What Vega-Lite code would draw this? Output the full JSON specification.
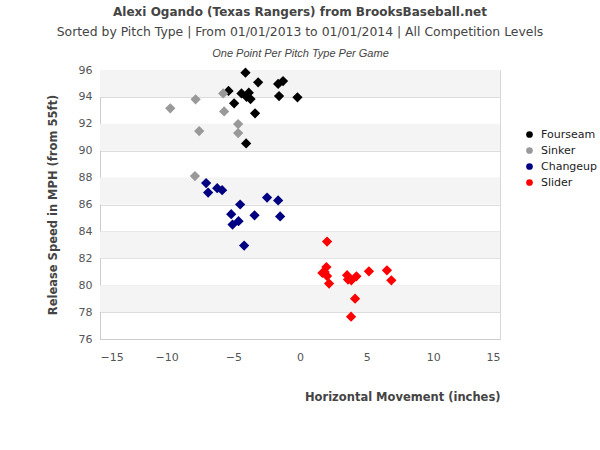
{
  "$schema": "https://vega.github.io/schema/vega-lite/v6.json",
  "autosize": "none",
  "width": 400,
  "height": 269,
  "padding": {"left": 100, "top": 70, "right": 100, "bottom": 111},
  "background": "#ffffff",
  "title": {
    "text": "Alexi Ogando (Texas Rangers) from BrooksBaseball.net",
    "subtitle": "Sorted by Pitch Type | From 01/01/2013 to 01/01/2014 | All Competition Levels",
    "anchor": "middle",
    "font": "DejaVu Sans",
    "fontSize": 12,
    "fontWeight": "bold",
    "color": "#444444",
    "subtitleFont": "DejaVu Sans",
    "subtitleFontSize": 12.4,
    "subtitleColor": "#444444",
    "subtitlePadding": 7,
    "offset": 8
  },
  "config": {
    "view": {"stroke": "#d8d8d8"},
    "axis": {
      "labelFont": "DejaVu Sans",
      "labelFontSize": 11,
      "labelColor": "#555555",
      "titleFont": "DejaVu Sans",
      "titleFontSize": 11.5,
      "titleFontWeight": "bold",
      "titleColor": "#444444",
      "domainColor": "#cccccc",
      "gridColor": "#dddddd"
    }
  },
  "datasets": {
    "bands": [
      {"lo": 94, "hi": 96},
      {"lo": 90, "hi": 92},
      {"lo": 86, "hi": 88},
      {"lo": 82, "hi": 84},
      {"lo": 78, "hi": 80}
    ],
    "pitches": [
      {"type": "Fourseam", "h": -4.09, "v": 95.8},
      {"type": "Fourseam", "h": -3.14, "v": 95.08},
      {"type": "Fourseam", "h": -1.64, "v": 94.96},
      {"type": "Fourseam", "h": -1.27, "v": 95.18},
      {"type": "Fourseam", "h": -5.36, "v": 94.44},
      {"type": "Fourseam", "h": -4.39, "v": 94.26},
      {"type": "Fourseam", "h": -3.84, "v": 94.31},
      {"type": "Fourseam", "h": -4.01, "v": 94.01},
      {"type": "Fourseam", "h": -3.71, "v": 93.84},
      {"type": "Fourseam", "h": -1.57, "v": 94.06},
      {"type": "Fourseam", "h": -0.19, "v": 93.97},
      {"type": "Fourseam", "h": -4.94, "v": 93.52},
      {"type": "Fourseam", "h": -3.37, "v": 92.78},
      {"type": "Fourseam", "h": -4.04, "v": 90.54},
      {"type": "Sinker", "h": -5.76, "v": 94.26},
      {"type": "Sinker", "h": -7.83, "v": 93.82},
      {"type": "Sinker", "h": -9.73, "v": 93.15},
      {"type": "Sinker", "h": -5.69, "v": 92.92},
      {"type": "Sinker", "h": -4.64, "v": 91.98},
      {"type": "Sinker", "h": -7.56, "v": 91.46},
      {"type": "Sinker", "h": -4.64, "v": 91.31},
      {"type": "Sinker", "h": -7.88, "v": 88.11},
      {"type": "Changeup", "h": -7.04, "v": 87.59},
      {"type": "Changeup", "h": -6.89, "v": 86.89},
      {"type": "Changeup", "h": -6.21, "v": 87.21},
      {"type": "Changeup", "h": -5.84, "v": 87.06},
      {"type": "Changeup", "h": -4.49, "v": 86.0},
      {"type": "Changeup", "h": -2.47, "v": 86.52},
      {"type": "Changeup", "h": -1.64, "v": 86.3},
      {"type": "Changeup", "h": -5.16, "v": 85.28},
      {"type": "Changeup", "h": -3.41, "v": 85.2},
      {"type": "Changeup", "h": -1.49, "v": 85.11},
      {"type": "Changeup", "h": -5.06, "v": 84.51},
      {"type": "Changeup", "h": -4.61, "v": 84.76},
      {"type": "Changeup", "h": -4.19, "v": 82.95},
      {"type": "Slider", "h": 2.03, "v": 83.24},
      {"type": "Slider", "h": 1.85, "v": 80.98},
      {"type": "Slider", "h": 1.98, "v": 81.35},
      {"type": "Slider", "h": 1.68, "v": 80.91},
      {"type": "Slider", "h": 2.03, "v": 80.68},
      {"type": "Slider", "h": 2.18, "v": 80.12},
      {"type": "Slider", "h": 3.53, "v": 80.74},
      {"type": "Slider", "h": 3.6, "v": 80.42},
      {"type": "Slider", "h": 3.85, "v": 80.36},
      {"type": "Slider", "h": 4.23, "v": 80.66},
      {"type": "Slider", "h": 5.17, "v": 81.03},
      {"type": "Slider", "h": 6.52, "v": 81.11},
      {"type": "Slider", "h": 6.85, "v": 80.36},
      {"type": "Slider", "h": 4.13, "v": 79.0},
      {"type": "Slider", "h": 3.83, "v": 77.66}
    ]
  },
  "resolve": {"axis": {"x": "independent"}},
  "layer": [
    {
      "data": {"name": "bands"},
      "mark": {"type": "rect", "fill": "#f4f4f4"},
      "encoding": {
        "x": {"datum": -15, "type": "quantitative", "scale": {"domain": [-15, 15], "nice": false}, "axis": null},
        "x2": {"datum": 15},
        "y": {
          "field": "lo", "type": "quantitative", "scale": {"domain": [76, 96], "nice": false},
          "axis": {"values": [76, 78, 80, 82, 84, 86, 88, 90, 92, 94, 96], "grid": true, "ticks": false, "labelPadding": 8,
                   "title": "Release Speed in MPH (from 55ft)", "titlePadding": 20}
        },
        "y2": {"field": "hi"}
      }
    },
    {
      "data": {"name": "pitches"},
      "mark": {"type": "point", "shape": "diamond", "filled": true, "opacity": 1, "size": 105},
      "encoding": {
        "x": {
          "field": "h", "type": "quantitative",
          "scale": {"domain": [-15, 15], "nice": false},
          "axis": {"values": [-15, -10, -5, 0, 5, 10, 15], "grid": false, "ticks": false, "labelPadding": 12,
                   "title": "Horizontal Movement (inches)", "titleAnchor": "end", "titlePadding": 29}
        },
        "y": {
          "field": "v", "type": "quantitative",
          "scale": {"domain": [76, 96], "nice": false},
          "axis": {"values": [76, 78, 80, 82, 84, 86, 88, 90, 92, 94, 96], "grid": true, "ticks": false, "labelPadding": 8,
                   "title": "Release Speed in MPH (from 55ft)", "titlePadding": 20}
        },
        "color": {
          "field": "type", "type": "nominal",
          "scale": {"domain": ["Fourseam", "Sinker", "Changeup", "Slider"], "range": ["#000000", "#999999", "#000080", "#ff0000"]},
          "legend": {
            "title": null, "orient": "none", "legendX": 424, "legendY": 59,
            "symbolType": "circle", "symbolSize": 45, "symbolStrokeWidth": 0,
            "labelFont": "DejaVu Sans", "labelFontSize": 11, "labelColor": "#222222",
            "labelOffset": 6, "rowPadding": 4, "padding": 0
          }
        }
      }
    },
    {
      "data": {"name": "pitches"},
      "mark": {"type": "point", "opacity": 0},
      "encoding": {
        "x": {
          "field": "h", "type": "quantitative",
          "scale": {"domain": [-15, 15], "nice": false},
          "axis": {"orient": "top", "labels": false, "ticks": false, "domain": false, "grid": false,
                   "title": "One Point Per Pitch Type Per Game", "titleFont": "Liberation Sans", "titleFontStyle": "italic",
                   "titleFontWeight": "normal", "titleFontSize": 11, "titleColor": "#444444", "titlePadding": 12}
        }
      }
    }
  ]
}
